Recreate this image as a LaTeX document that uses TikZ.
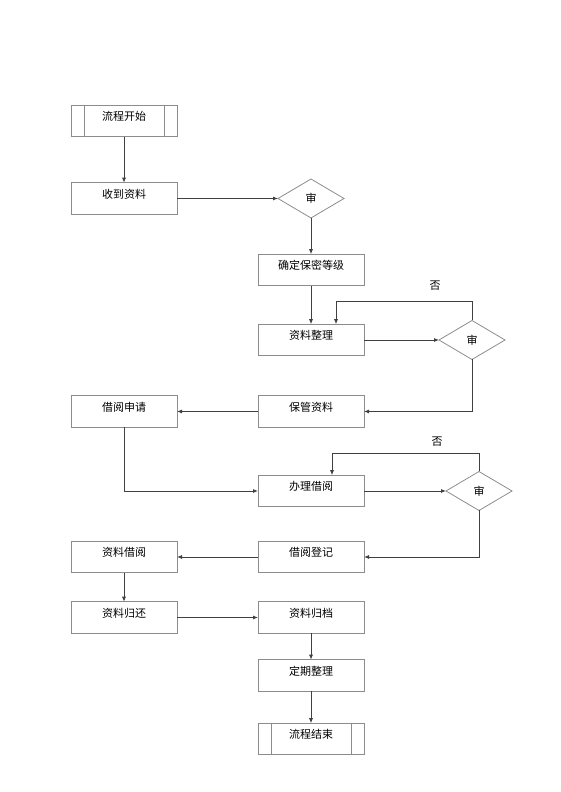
\documentclass[tikz,border=0pt]{standalone}
\usepackage{fontspec}
\newfontfamily\cjk{Noto Sans CJK SC}
\usetikzlibrary{positioning,shapes.geometric,arrows.meta}
\definecolor{boxgray}{HTML}{8C8C8C}
\definecolor{linegray}{HTML}{404040}

\begin{document}
\begin{tikzpicture}[
        x=1pt, y=1pt,
        every node/.style={font=\cjk\fontsize{11}{13}\selectfont},
        proc/.style={
            rectangle,
            draw=boxgray,
            line width=0.8pt,
            minimum width=106pt,
            minimum height=31.5pt,
            inner sep=0pt,
            outer sep=0pt,
            text height=5pt,
            text depth=5pt
        },
        terminal/.style={
            proc,
            path picture={
                \draw[boxgray, line width=0.8pt]
                    ([xshift=13pt]path picture bounding box.north west) -- ([xshift=13pt]path picture bounding box.south west)
                    ([xshift=-13pt]path picture bounding box.north east) -- ([xshift=-13pt]path picture bounding box.south east);
            }
        },
        check/.style={
            diamond,
            draw=boxgray,
            line width=0.8pt,
            aspect=1.7,
            minimum width=66pt,
            minimum height=39pt,
            inner sep=0pt,
            outer sep=0pt
        },
        link/.style={
            draw=linegray,
            line width=0.8pt,
            -{Latex[length=5pt,width=4pt]}
        }
    ]
        \useasboundingbox (0,0) rectangle (560,792);

        \node[terminal] (start)  at (124,671)                  {流程开始};
        \node[proc]     (recv)   [below=46pt of start]         {收到资料};
        \node[check]    (rev1)   [right=101pt of recv]         {审};
        \node[proc]     (level)  [below=36.25pt of rev1]       {确定保密等级};
        \node[proc]     (tidy)   [below=38.5pt of level]       {资料整理};
        \node[check]    (rev2)   [right=75pt of tidy]          {审};
        \node[proc]     (keep)   [below=40pt of tidy]          {保管资料};
        \node[proc]     (apply)  [left=81pt of keep]           {借阅申请};
        \node[proc]     (handle) [below=48pt of keep]          {办理借阅};
        \node[check]    (rev3)   [right=82pt of handle]        {审};
        \node[proc]     (reg)    [below=34.5pt of handle]      {借阅登记};
        \node[proc]     (lend)   [left=81pt of reg]            {资料借阅};
        \node[proc]     (back)   [below=29pt of lend]          {资料归还};
        \node[proc]     (file)   [right=81pt of back]          {资料归档};
        \node[proc]     (sort)   [below=26.5pt of file]        {定期整理};
        \node[terminal] (finish) [below=32pt of sort]          {流程结束};

        \node (no1) at (435,506) {否};
        \node (no2) at (437,350) {否};

        \draw[link] (start) -- (recv);
        \draw[link] (recv) -- (rev1);
        \draw[link] (rev1) -- (level);
        \draw[link] (level) -- (tidy);
        \draw[link] (tidy) -- (rev2);
        \draw[link] (rev2.north) -- ++(0,19) -| ([xshift=25pt]tidy.north);
        \draw[link] (rev2.south) |- (keep.east);
        \draw[link] (keep) -- (apply);
        \draw[link] (apply.south) |- (handle.west);
        \draw[link] (handle) -- (rev3);
        \draw[link] (rev3.north) -- ++(0,18) -| ([xshift=21pt]handle.north);
        \draw[link] (rev3.south) |- (reg.east);
        \draw[link] (reg) -- (lend);
        \draw[link] (lend) -- (back);
        \draw[link] (back) -- (file);
        \draw[link] (file) -- (sort);
        \draw[link] (sort) -- (finish);
    \end{tikzpicture}
\end{document}
